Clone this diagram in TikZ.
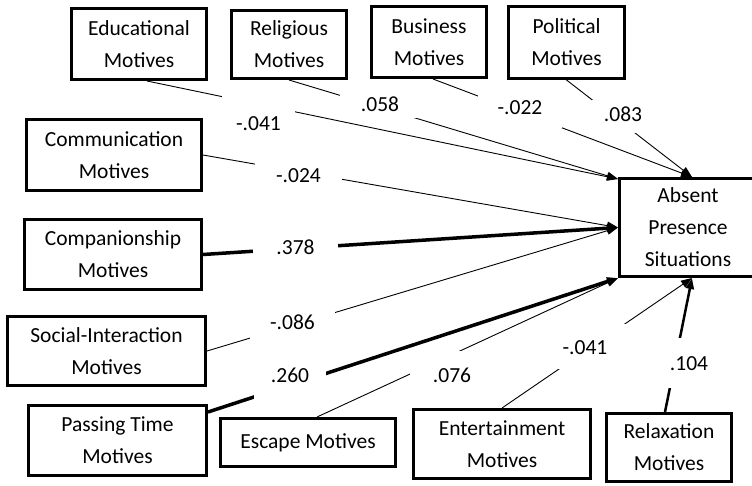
\documentclass[tikz,border=0pt]{standalone}
\usepackage{fontspec}
\setmainfont{Carlito}
\usepackage{tikz}
\usetikzlibrary{arrows.meta}
\usetikzlibrary{positioning}

\begin{document}
\begin{tikzpicture}[x=1pt,y=-1pt,
  motive/.style={draw,line width=3pt,align=center,inner sep=0pt,
    font=\fontsize{21.5}{32}\selectfont},
  coef/.style={fill=white,inner sep=0pt,anchor=base,
    font=\fontsize{21.5}{25}\selectfont},
  path/.style={line width=0.9pt,-{Triangle[length=11pt,width=8pt]}},
  strong/.style={path,line width=3.5pt},
  medium/.style={path,line width=2.5pt}]
  \useasboundingbox (0,0) rectangle (752,485);
  \node[motive,minimum width=135,minimum height=71] (edu) at (139,44) {Educational\\Motives};
  \node[motive,minimum width=115,minimum height=68] (rel) at (289,44.5) {Religious\\Motives};
  \node[motive,minimum width=115,minimum height=71] (bus) at (429,42) {Business\\Motives};
  \node[motive,minimum width=116,minimum height=72] (pol) at (566.5,42.5) {Political\\Motives};
  \node[motive,minimum width=175,minimum height=71] (com) at (114,155) {Communication\\Motives};
  \node[motive,minimum width=177,minimum height=70] (cmp) at (113,254.5) {Companionship\\Motives};
  \node[motive,minimum width=198,minimum height=69] (soc) at (106.5,351) {Social-Interaction\\Motives};
  \node[motive,minimum width=178,minimum height=70] (pas) at (117.5,440.5) {Passing Time\\Motives};
  \node[motive,minimum width=175,minimum height=48] (esc) at (308,442.5) {Escape Motives};
  \node[motive,minimum width=177,minimum height=69] (ent) at (502,444) {Entertainment\\Motives};
  \node[motive,minimum width=125,minimum height=68] (rlx) at (669,447.5) {Relaxation\\Motives};
  \node[motive,minimum width=137,minimum height=98] (aps) at (688,227.5) {Absent\\Presence\\Situations};

  \draw[path] ([xshift=8pt]edu.south) -- ([yshift=-2pt]aps.north west);
  \draw[path] (rel.south) -- ([yshift=-2pt]aps.north west);
  \draw[path] ([xshift=4pt]bus.south) -- ([xshift=4pt]aps.north);
  \draw[path] (pol.south) -- ([xshift=4pt]aps.north);
  \draw[path] (com.east) -- (aps.west);
  \draw[strong] (cmp.east) -- (aps.west);
  \draw[path] (soc.east) -- (aps.west);
  \draw[strong] ([yshift=-8pt]pas.north east) -- (aps.south west);
  \draw[path] ([xshift=9pt]esc.north) -- (aps.south west);
  \draw[path] (ent.north) -- ([xshift=4pt]aps.south);
  \draw[medium] ([xshift=-4pt]rlx.north) -- ([xshift=4pt]aps.south);

  \node[coef,minimum width=73,text height=34,text depth=5] (cedu) at (258.5,130) {-.041};
  \node[coef,minimum width=80,text height=16,text depth=7] (crel) at (380,111) {.058};
  \node[coef,minimum width=84,text height=20,text depth=14] (cbus) at (520,114) {-.022};
  \node[coef,minimum width=62,text height=21,text depth=12] (cpol) at (623,121) {.083};
  \node[coef,minimum width=87,text height=22,text depth=2] (ccom) at (298.5,182) {-.024};
  \node[coef,minimum width=85,text height=16,text depth=4] (ccmp) at (295.5,254) {.378};
  \node[coef,minimum width=85,text height=19,text depth=12] (csoc) at (292.5,329) {-.086};
  \node[coef,minimum width=72,text height=16,text depth=17] (cpas) at (290,382) {.260};
  \node[coef,minimum width=84,text height=31,text depth=4] (cesc) at (452,382) {.076};
  \node[coef,minimum width=82,text height=30,text depth=15] (cent) at (585,354) {-.041};
  \node[coef,minimum width=46,text height=32,text depth=18] (crlx) at (689,370) {.104};
\end{tikzpicture}
\end{document}
